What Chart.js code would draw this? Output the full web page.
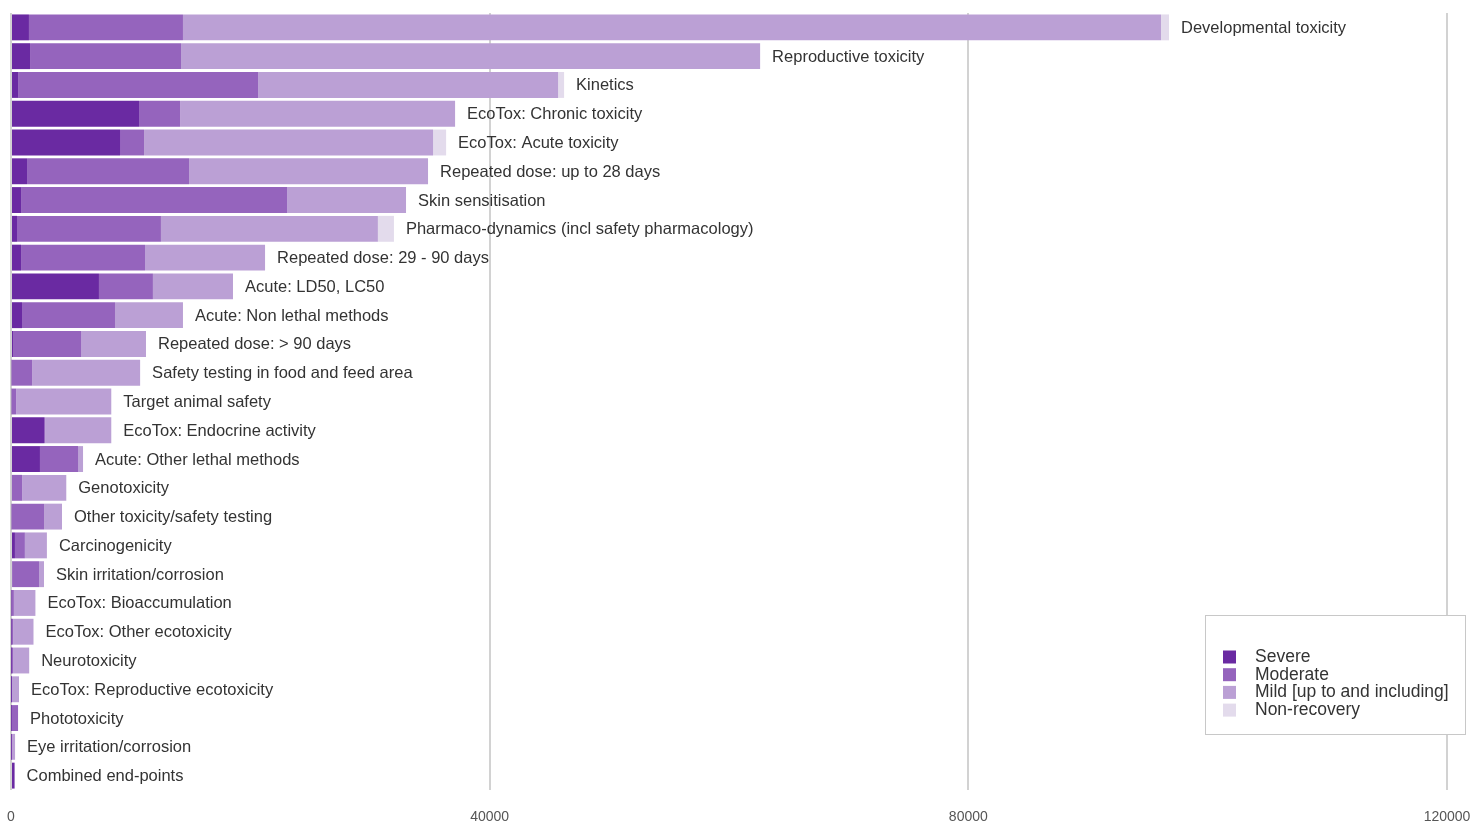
<!DOCTYPE html>
<html>
<head>
<meta charset="utf-8">
<script src="https://cdn.jsdelivr.net/npm/chart.js@4/dist/chart.umd.min.js"></script>
<style>
html,body{margin:0;padding:0;background:#fff;}
#wrap{width:1472px;height:824px;position:relative;}
</style>
</head>
<body>
<div id="wrap"><canvas id="c" width="1472" height="824"></canvas></div>
<script>
const categories = [
  "Developmental toxicity","Reproductive toxicity","Kinetics","EcoTox: Chronic toxicity",
  "EcoTox: Acute toxicity","Repeated dose: up to 28 days","Skin sensitisation",
  "Pharmaco-dynamics (incl safety pharmacology)","Repeated dose: 29 - 90 days",
  "Acute: LD50, LC50","Acute: Non lethal methods","Repeated dose: > 90 days",
  "Safety testing in food and feed area","Target animal safety","EcoTox: Endocrine activity",
  "Acute: Other lethal methods","Genotoxicity","Other toxicity/safety testing",
  "Carcinogenicity","Skin irritation/corrosion","EcoTox: Bioaccumulation",
  "EcoTox: Other ecotoxicity","Neurotoxicity","EcoTox: Reproductive ecotoxicity",
  "Phototoxicity","Eye irritation/corrosion","Combined end-points"
];
const severe   = [1500,1590,590,10700,9110,1340,840,500,840,7350,920,170,60,60,2760,2420,80,60,330,100,40,30,20,10,20,20,300];
const moderate = [12870,12620,20060,3430,2010,13540,22230,12030,10360,4510,7770,5680,1700,380,100,3180,860,2700,830,2240,200,150,150,60,570,100,0];
const mild     = [81730,48390,25070,22980,24150,19970,9940,18130,10030,6690,5680,5430,9030,7940,5520,420,3680,1500,1840,420,1800,1700,1350,600,0,220,0];
const nonrec   = [670,0,500,0,1090,0,0,1340,0,0,0,0,0,0,0,0,0,0,0,0,0,0,0,0,0,0,0];
const seriesNames = ["Severe","Moderate","Mild [up to and including]","Non-recovery"];
const seriesColors = ["#6a2aa2","#9564bd","#bba0d5","#e3dbec"];
const xTicks = [0,40000,80000,120000];

const endLabels = {
  id:'endLabels',
  afterDatasetsDraw(chart){
    const ctx = chart.ctx;
    const n = chart.data.datasets.length;
    ctx.save();
    ctx.font = '16.5px "Liberation Sans", Arial, sans-serif';
    ctx.fillStyle = '#333';
    ctx.textBaseline = 'middle';
    ctx.textAlign = 'left';
    chart.data.labels.forEach((lab,i)=>{
      let maxX = chart.chartArea.left;
      for(let d=0; d<n; d++){
        const el = chart.getDatasetMeta(d).data[i];
        if(el && el.x > maxX) maxX = el.x;
      }
      const y = chart.getDatasetMeta(0).data[i].y;
      ctx.fillText(lab, maxX + 12, y+1);
    });
    ctx.restore();
  }
};

const boxLegend = {
  id:'boxLegend',
  afterDraw(chart){
    const ctx = chart.ctx;
    const x0=1205, y0=615, w=260, h=119;
    ctx.save();
    ctx.fillStyle='#fff';
    ctx.fillRect(x0,y0,w,h);
    ctx.strokeStyle='#c8c8c8';
    ctx.lineWidth=1;
    ctx.strokeRect(x0+0.5,y0+0.5,w,h);
    ctx.font='17.5px "Liberation Sans", Arial, sans-serif';
    ctx.textBaseline='middle';
    chart.data.datasets.forEach((ds,i)=>{
      const cy = 657 + i*17.7;
      ctx.fillStyle = ds.backgroundColor;
      ctx.fillRect(1223, cy-6.5, 13, 13);
      ctx.fillStyle='#333';
      ctx.fillText(ds.label, 1255, cy);
    });
    ctx.restore();
  }
};

new Chart(document.getElementById('c'),{
  type:'bar',
  data:{
    labels:categories,
    datasets:[severe,moderate,mild,nonrec].map((arr,i)=>({
      label:seriesNames[i], data:arr, backgroundColor:seriesColors[i],
      borderWidth:0, barPercentage:0.9, categoryPercentage:1.0
    }))
  },
  options:{
    indexAxis:'y',
    responsive:false,
    animation:false,
    layout:{padding:{left:11,right:25,top:13,bottom:0}},
    plugins:{legend:{display:false},tooltip:{enabled:false}},
    scales:{
      x:{
        stacked:true, min:0, max:120000,
        afterBuildTicks(scale){ scale.ticks = xTicks.map(v=>({value:v})); },
        afterFit(scale){ scale.height = 34; scale.paddingLeft = 0; scale.paddingRight = 0; },
        grid:{color:'#d2d2d2', lineWidth:2, drawTicks:false},
        border:{display:false},
        ticks:{color:'#555', font:{size:14, family:'"Liberation Sans", Arial, sans-serif'}, padding:19, maxRotation:0,
          callback:(v)=>String(v)}
      },
      y:{
        stacked:true, display:false,
        grid:{display:false}
      }
    }
  },
  plugins:[endLabels, boxLegend]
});
</script>
</body>
</html>
